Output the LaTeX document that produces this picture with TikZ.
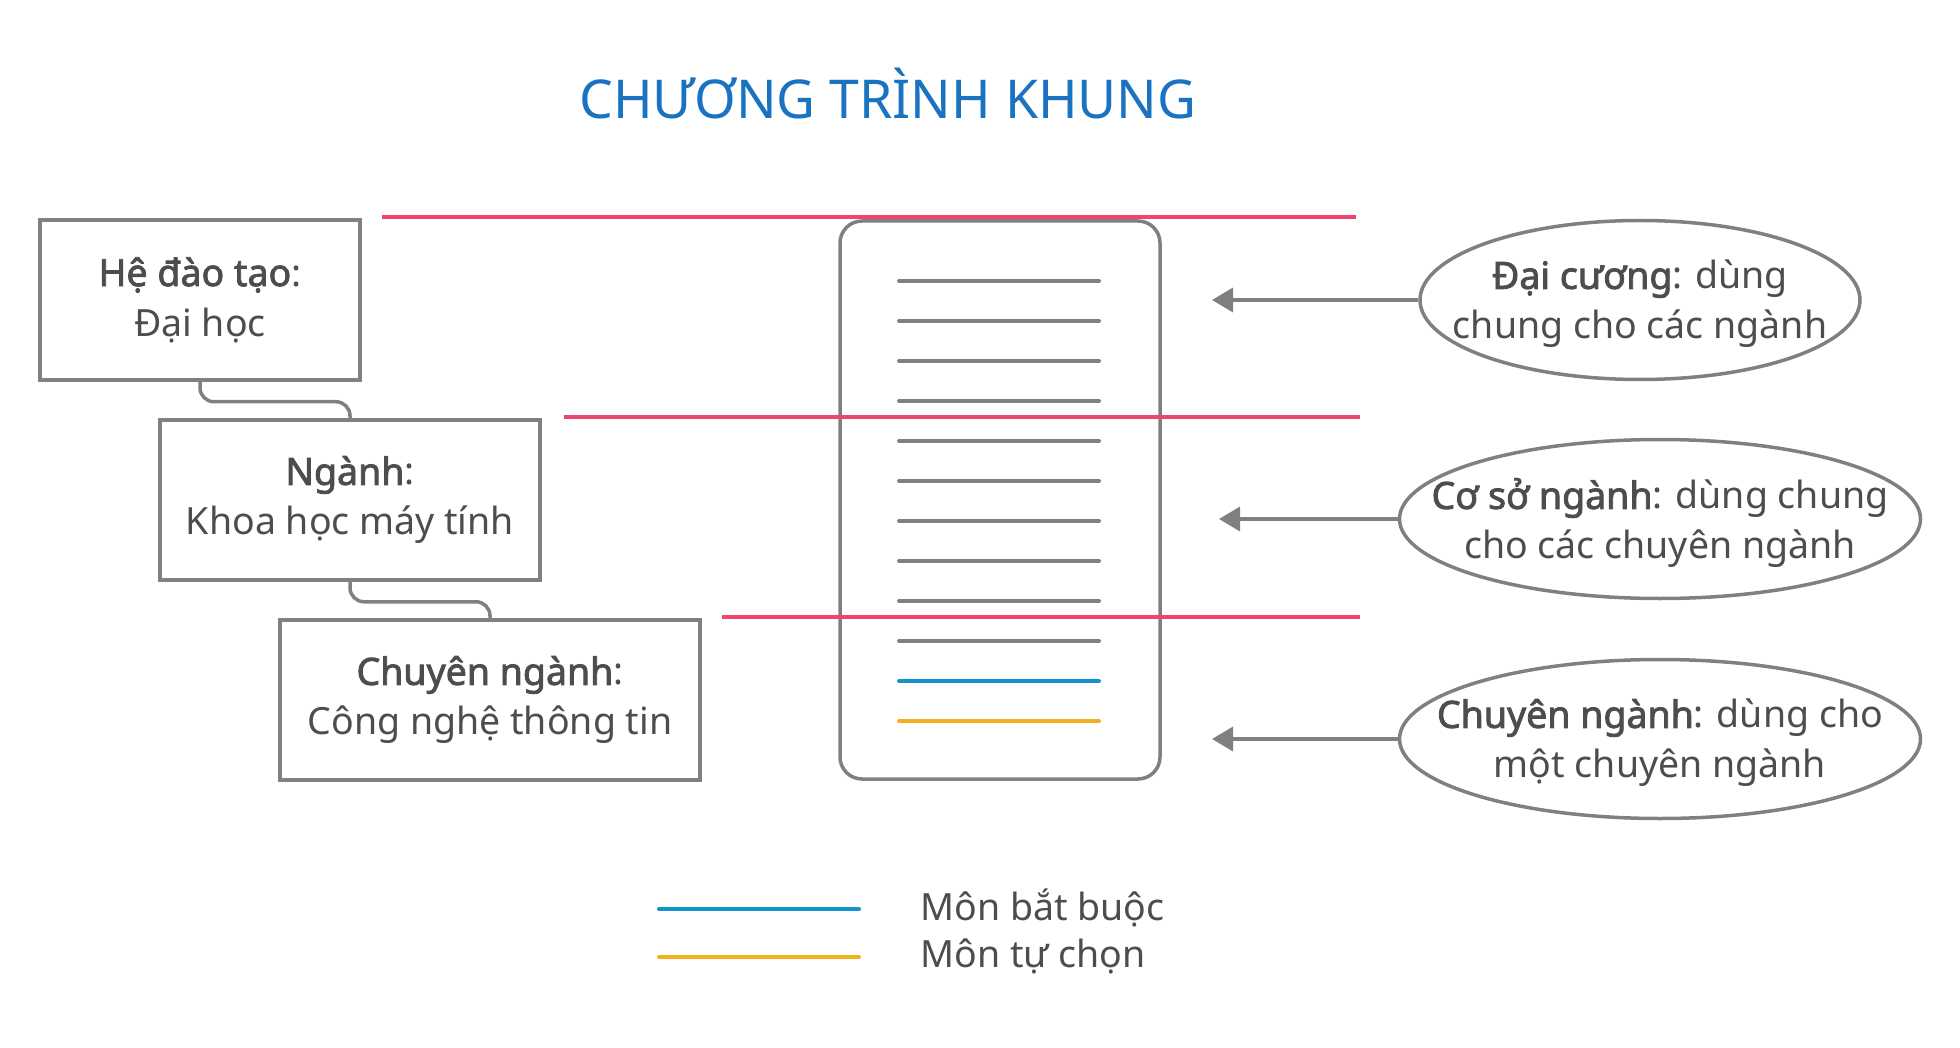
\documentclass[tikz,border=0pt]{standalone}
\usepackage{fontspec}
\setmainfont{Noto Sans}[BoldFont={Noto Sans}, BoldFeatures={FakeBold=2.2}]
\usetikzlibrary{arrows.meta,shapes.geometric}

\definecolor{txtgray}{HTML}{4D4D4D}
\definecolor{linegray}{HTML}{808080}
\definecolor{sepred}{HTML}{EE4570}
\definecolor{reqblue}{HTML}{1593CF}
\definecolor{optyellow}{HTML}{F2B01E}
\definecolor{titleblue}{HTML}{1A73C0}

\tikzset{
  box/.style={draw=linegray, line width=3.5pt, minimum height=160pt, align=center,
    text=txtgray, font=\fontsize{37.5}{50}\selectfont},
  oval/.style={ellipse, draw=linegray, line width=3.5pt, minimum height=159pt, inner sep=0pt},
  ovaltxt/.style={align=center, text=txtgray, font=\fontsize{37.5}{50}\selectfont},
  conn/.style={draw=linegray, line width=3.5pt, rounded corners=14pt},
  arr/.style={draw=linegray, line width=3.5pt, -{Triangle[width=24pt,length=21pt]}},
  sep/.style={draw=sepred, line width=3.5pt},
  item/.style={line width=4pt, line cap=round}
}

\begin{document}
\begin{tikzpicture}[x=1pt,y=-1pt]
        \useasboundingbox (0,0) rectangle (1960,1048);

        \node [text=titleblue, font=\fontsize{53.5}{60}\selectfont] (title) at (888,94) {CHƯƠNG TRÌNH KHUNG};

        \node [box, minimum width=320pt] (he) at (200,300) {\textbf{Hệ đào tạo}:\\Đại học};
        \node [box, minimum width=380pt] (nganh) at (350,500) {\textbf{Ngành}:\\Khoa học máy tính};
        \node [box, minimum width=420pt] (chuyen) at (490,700) {\textbf{Chuyên ngành}:\\Công nghệ thông tin};

        \draw [conn] (he.south) -- ++(0,20) -| (nganh.north);
        \draw [conn] (nganh.south) -- ++(0,20) -| (chuyen.north);

        \node [draw=linegray, line width=3.5pt, rounded corners=22pt, minimum width=320pt, minimum height=558pt] (doc) at (1000,500) {};
        \foreach \i in {0,...,9}
          \draw [item, linegray] (899,281+40*\i) -- (1099,281+40*\i);
        \draw [item, reqblue] (899,681) -- (1099,681);
        \draw [item, optyellow] (899,721) -- (1099,721);

        \draw [sep] (382,217) -- (1356,217);
        \draw [sep] (564,417) -- (1360,417);
        \draw [sep] (722,617) -- (1360,617);

        \node [oval, minimum width=440pt] (daicuong) at (1640,300) {};
        \node [ovaltxt] at ([yshift=-4pt]daicuong.center) {\textbf{Đại cương}: dùng\\chung cho các ngành};
        \node [oval, minimum width=521pt] (coso) at (1660,519) {};
        \node [ovaltxt] at ([yshift=-4pt]coso.center) {\textbf{Cơ sở ngành}: dùng chung\\cho các chuyên ngành};
        \node [oval, minimum width=521pt] (cn) at (1660,739) {};
        \node [ovaltxt] at ([yshift=-4pt]cn.center) {\textbf{Chuyên ngành}: dùng cho\\một chuyên ngành};

        \coordinate (t1) at (1212,300);
        \coordinate (t2) at (1219,519);
        \coordinate (t3) at (1212,739);
        \draw [arr] (daicuong.west) -- (t1);
        \draw [arr] (coso.west) -- (t2);
        \draw [arr] (cn.west) -- (t3);

        \draw [item, reqblue] (659,909) -- (859,909);
        \draw [item, optyellow] (659,957) -- (859,957);
        \node [anchor=west, text=txtgray, font=\fontsize{37.5}{50}\selectfont] (batbuoc) at (917,908) {Môn bắt buộc};
        \node [anchor=west, text=txtgray, font=\fontsize{37.5}{50}\selectfont] (tuchon) at (917,956) {Môn tự chọn};
      \end{tikzpicture}
\end{document}
